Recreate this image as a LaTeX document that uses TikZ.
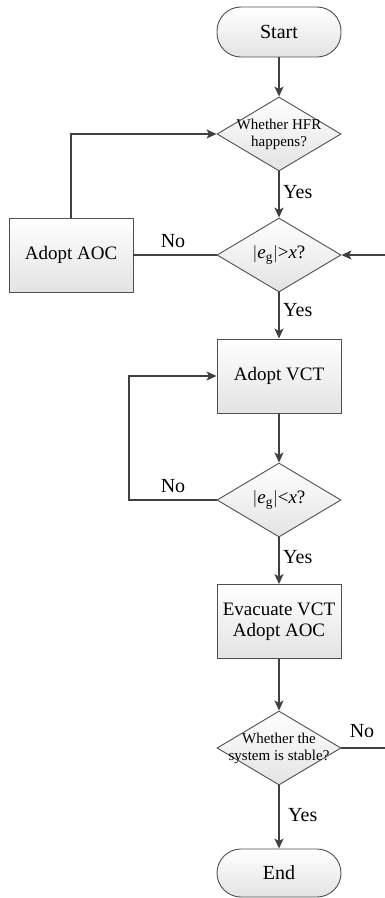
\documentclass[tikz,border=0pt]{standalone}
\usepackage{fontspec}
\setmainfont{Liberation Serif}
\usetikzlibrary{shapes.geometric,arrows.meta}
\definecolor{ln}{HTML}{404040}
\definecolor{bd}{HTML}{505050}
\tikzset{
  base/.style={draw=bd, line width=0.9pt, top color=white, bottom color=black!11, inner sep=0pt},
  term/.style={base, rectangle, rounded corners=24pt, minimum width=124pt, minimum height=50pt, font=\fontsize{20}{22}\selectfont},
  proc/.style={base, rectangle, minimum width=124pt, minimum height=74pt, align=center, font=\fontsize{19}{21}\selectfont},
  decision/.style={base, diamond, minimum width=124pt, minimum height=74pt},
  dtext/.style={font=\fontsize{15}{17}\selectfont, align=center},
  btext/.style={font=\fontsize{19}{21}\selectfont},
  conn/.style={draw=ln, line width=1.5pt},
  arr/.style={conn, -{Stealth[length=10pt,width=9pt,inset=2.5pt]}},
  lab/.style={font=\fontsize{20}{22}\selectfont, inner sep=0pt},
}
\newcommand{\eg}{$|$\textit{e}\textsubscript{g}$|$}
\begin{document}
\begin{tikzpicture}[x=1pt,y=-1pt]
\useasboundingbox (0,0) rectangle (385,898);
% nodes
\node[term] (start) at (279,32) {Start};
\node[decision, label={[dtext]center:Whether HFR\\happens?}] (d1) at (279,134) {};
\node[decision, label={[btext]center:\eg{}>\textit{x}?}] (d2) at (279,255) {};
\node[proc] (aoc) at (71,255) {Adopt AOC};
\node[proc] (vct) at (279,376) {Adopt VCT};
\node[decision, label={[btext]center:\eg{}<\textit{x}?}] (d3) at (279,500) {};
\node[proc, font=\fontsize{19}{20.5}\selectfont] (evac) at (279,621.5) {Evacuate VCT\\Adopt AOC};
\node[decision, label={[dtext]center:Whether the\\system is stable?}] (d4) at (279,748) {};
\node[term, minimum height=48pt] (end) at (279,873) {End};
% helper coordinates
\coordinate (aocUp) at (71,134);
\coordinate (loopL1) at (129,500);
\coordinate (loopL2) at (129,376);
\coordinate (rt1) at (387,748);
\coordinate (rt2) at (387,255);
% connectors
\draw[arr] (start) -- (d1);
\draw[arr] (d1) -- (d2);
\draw[arr] (aoc.north) -- (aocUp) -- (d1.west);
\draw[conn] (d2.west) -- (aoc.east);
\draw[arr] (d2) -- (vct);
\draw[arr] (vct) -- (d3);
\draw[arr] (d3.west) -- (loopL1) -- (loopL2) -- (vct.west);
\draw[arr] (d3) -- (evac);
\draw[arr] (evac) -- (d4);
\draw[arr] (d4) -- (end);
\draw[arr] (d4.east) -- (rt1) -- (rt2) -- (d2.east);
% labels
\node[lab, anchor=west] (y1) at (283,192) {Yes};
\node[lab] (n1) at (173,241) {No};
\node[lab, anchor=west] (y2) at (283,310) {Yes};
\node[lab] (n2) at (173,486) {No};
\node[lab, anchor=west] (y3) at (283,557) {Yes};
\node[lab] (n3) at (362,731) {No};
\node[lab, anchor=west] (y4) at (288,815) {Yes};
\end{tikzpicture}
\end{document}
